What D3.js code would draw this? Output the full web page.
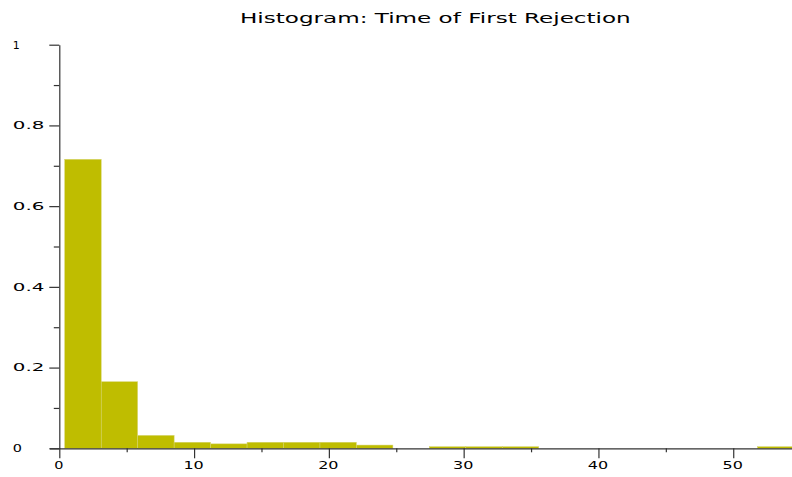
<!DOCTYPE html>
<html>
<head>
<meta charset="utf-8">
<script src="https://cdn.jsdelivr.net/npm/d3@7"></script>
<style>
  html, body { margin: 0; padding: 0; background: #fff; }
  svg { display: block; }
</style>
</head>
<body>
<svg id="chart" width="792" height="477"></svg>
<script>
// ---- data ----
const title = "Histogram: Time of First Rejection";
const binEdges = [0.40, 3.11, 5.81, 8.52, 11.22, 13.93, 16.63, 19.34, 22.04, 24.75, 27.45,
                  30.16, 32.86, 35.57, 38.27, 40.98, 43.68, 46.39, 49.09, 51.80, 54.50];
const binValues = [0.716, 0.165, 0.032, 0.015, 0.011, 0.015, 0.015, 0.015, 0.008, 0,
                   0.004, 0.004, 0.004, 0, 0, 0, 0, 0, 0, 0.004];
const xMajorTicks = [0, 10, 20, 30, 40, 50];
const xMinorTicks = [5, 15, 25, 35, 45];
const yMajorTicks = [0, 0.2, 0.4, 0.6, 0.8, 1];
const yMinorTicks = [0.1, 0.3, 0.5, 0.7, 0.9];
const yTickLabels = ["0", "0.2", "0.4", "0.6", "0.8", "1"];

// ---- layout ----
const svg = d3.select("#chart");
const W = 792, H = 477;
const x = d3.scaleLinear().domain([0, 54.36]).range([59.3, 792]);
const y = d3.scaleLinear().domain([0, 1]).range([448.3, 44.7]);
const barColor = "#bfbd00";
const axisColor = "#333";
const font = "'DejaVu Sans', sans-serif";

const bins = binValues.map((v, i) => ({x0: binEdges[i], x1: binEdges[i + 1], v}));

svg.append("g")
  .selectAll("rect")
  .data(bins.filter(d => d.v > 0))
  .join("rect")
  .attr("x", d => x(d.x0))
  .attr("width", d => x(d.x1) - x(d.x0))
  .attr("y", d => y(d.v))
  .attr("height", d => y(0) - y(d.v))
  .attr("fill", barColor)
  .attr("stroke", "#d6d470")
  .attr("stroke-width", 0.5);

const labelW = s => s === "1" ? 7 : s.length * 11.2 - 2;

// x axis (ticks only, labels drawn separately)
const gx = svg.append("g").attr("transform", `translate(0,${y(0)})`);
gx.call(d3.axisBottom(x).tickValues(xMajorTicks).tickSize(10).tickSizeOuter(0).tickFormat(""));
gx.select(".domain").attr("d", `M${50},0.5H${W}`);
const gxm = svg.append("g").attr("transform", `translate(0,${y(0)})`);
gxm.call(d3.axisBottom(x).tickValues(xMinorTicks).tickSize(4).tickFormat(""));
gxm.select(".domain").remove();

// y axis
const gy = svg.append("g").attr("transform", `translate(${x(0)},0)`);
gy.call(d3.axisLeft(y).tickValues(yMajorTicks).tickSize(10).tickSizeOuter(0).tickFormat(""));
const gym = svg.append("g").attr("transform", `translate(${x(0)},0)`);
gym.call(d3.axisLeft(y).tickValues(yMinorTicks).tickSize(5.5).tickFormat(""));
gym.select(".domain").remove();

svg.selectAll(".domain, .tick line").attr("stroke", axisColor).attr("stroke-width", 1.2);

// stretched labels
function stretchedText(parent, str, lx, by, w, size) {
  const t = parent.append("text")
    .attr("font-family", font).attr("font-size", size).attr("fill", "#000")
    .attr("x", 0).attr("y", 0)
    .style("white-space", "pre")
    .text(str);
  const nat = t.node().getComputedTextLength() || (str.length * size * 0.6);
  t.attr("transform", `translate(${lx},${by}) scale(${w / nat},1)`);
  return t;
}

const labels = svg.append("g");
xMajorTicks.forEach(v => {
  const s = String(v);
  const w = labelW(s);
  stretchedText(labels, s, x(v) - w / 2 - 0.5, y(0) + 21, w, 10.5);
});
yMajorTicks.forEach((v, i) => {
  const s = yTickLabels[i];
  stretchedText(labels, s, 12.8, y(v) + 3.8, labelW(s), 10.5);
});

stretchedText(svg, title, 240, 23, 391, 14);
</script>
</body>
</html>
